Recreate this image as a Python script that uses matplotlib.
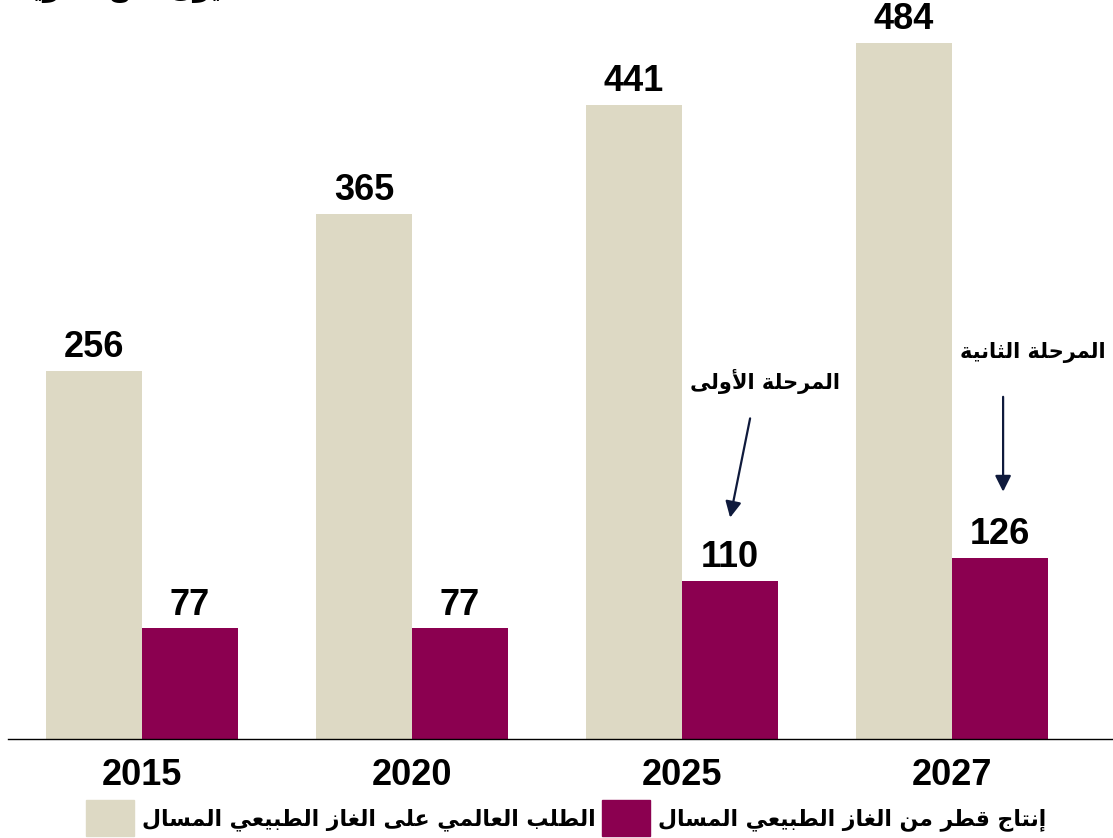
import matplotlib
matplotlib.use("Agg")
import matplotlib.pyplot as plt
from matplotlib.patches import Patch

# Arabic letters -> first presentation form (isolated) and number of forms
FORMS = {
    "ء": (0xFE80, 1), "آ": (0xFE81, 2), "أ": (0xFE83, 2), "ؤ": (0xFE85, 2),
    "إ": (0xFE87, 2), "ئ": (0xFE89, 4), "ا": (0xFE8D, 2), "ب": (0xFE8F, 4),
    "ة": (0xFE93, 2), "ت": (0xFE95, 4), "ث": (0xFE99, 4), "ج": (0xFE9D, 4),
    "ح": (0xFEA1, 4), "خ": (0xFEA5, 4), "د": (0xFEA9, 2), "ذ": (0xFEAB, 2),
    "ر": (0xFEAD, 2), "ز": (0xFEAF, 2), "س": (0xFEB1, 4), "ش": (0xFEB5, 4),
    "ص": (0xFEB9, 4), "ض": (0xFEBD, 4), "ط": (0xFEC1, 4), "ظ": (0xFEC5, 4),
    "ع": (0xFEC9, 4), "غ": (0xFECD, 4), "ف": (0xFED1, 4), "ق": (0xFED5, 4),
    "ك": (0xFED9, 4), "ل": (0xFEDD, 4), "م": (0xFEE1, 4), "ن": (0xFEE5, 4),
    "ه": (0xFEE9, 4), "و": (0xFEED, 2), "ى": (0xFEEF, 2), "ي": (0xFEF1, 4),
}
LAM_ALEF = {"آ": 0xFEF5, "أ": 0xFEF7, "إ": 0xFEF9, "ا": 0xFEFB}


def shape(text):
    """Join Arabic letters into presentation forms and reverse for display."""
    out = []
    i = 0
    n = len(text)
    while i < n:
        ch = text[i]
        if ch not in FORMS:
            out.append(ch)
            i += 1
            continue
        prev = text[i - 1] if i > 0 else ""
        joins_prev = prev in FORMS and FORMS[prev][1] == 4
        if ch == "ل" and i + 1 < n and text[i + 1] in LAM_ALEF:
            out.append(chr(LAM_ALEF[text[i + 1]] + (1 if joins_prev else 0)))
            i += 2
            continue
        base, nf = FORMS[ch]
        nxt = text[i + 1] if i + 1 < n else ""
        joins_next = nf == 4 and nxt in FORMS
        if nf == 1:
            off = 0
        elif joins_prev and joins_next:
            off = 3
        elif joins_prev:
            off = 1
        elif joins_next:
            off = 2
        else:
            off = 0
        out.append(chr(base + off))
        i += 1
    return "".join(out)[::-1]


years = ["2015", "2020", "2025", "2027"]
demand = [256, 365, 441, 484]
qatar = [77, 77, 110, 126]
demand_label = "الطلب العالمي على الغاز الطبيعي المسال"
qatar_label = "إنتاج قطر من الغاز الطبيعي المسال"
units = "مليون طن سنويا"
phase1 = "المرحلة الأولى"
phase2 = "المرحلة الثانية"

beige = "#DDD9C4"
purple = "#8B0050"
navy = "#0F1A3C"
ar_font = ["DejaVu Sans"]
num_font = ["Liberation Sans", "DejaVu Sans"]

fig = plt.figure(figsize=(11.13, 8.38), dpi=100)
ax = fig.add_axes([8 / 1113, 99 / 838, 1105 / 1113, 739 / 838])

w = 0.356
x = list(range(len(years)))
b1 = ax.bar([i - w / 2 for i in x], demand, width=w, color=beige)
b2 = ax.bar([i + w / 2 for i in x], qatar, width=w, color=purple)

for bars, vals in ((b1, demand), (b2, qatar)):
    for bar, v in zip(bars, vals):
        ax.text(bar.get_x() + bar.get_width() / 2, v + 4, str(v),
                ha="center", va="bottom", fontsize=26, fontweight="bold",
                family=num_font)

ax.set_xlim(-0.4963, 3.596)
ax.set_ylim(0, 514)
ax.set_xticks(x)
ax.set_xticklabels(years, fontsize=26, fontweight="bold", family=num_font)
ax.tick_params(axis="x", length=0, pad=14)
ax.set_yticks([])
for s in ("top", "left", "right"):
    ax.spines[s].set_visible(False)
ax.spines["bottom"].set_linewidth(1.0)

# phase annotations with arrows pointing at the production bars
arrow = dict(arrowstyle="-|>", color=navy, lw=1.6, mutation_scale=24,
             shrinkA=0, shrinkB=0)
ax.text(2.307, 249, shape(phase1), ha="center", va="center", fontsize=15,
        fontweight="bold", family=ar_font)
ax.annotate("", xy=(2.178, 154), xytext=(2.252, 223), arrowprops=arrow)
ax.text(3.30, 269, shape(phase2), ha="center", va="center", fontsize=15,
        fontweight="bold", family=ar_font)
ax.annotate("", xy=(3.189, 172), xytext=(3.189, 238), arrowprops=arrow)

# units caption, mostly above the canvas edge
fig.text(0.02, 1.013, shape(units), ha="left", va="center", fontsize=20,
         fontweight="bold", family=ar_font)

handles = [Patch(color=beige), Patch(color=purple)]
ax.legend(handles, [shape(demand_label), shape(qatar_label)], ncol=2,
          loc="center", bbox_to_anchor=(0.505, -0.107), frameon=False,
          prop=dict(family=ar_font, size=15.8, weight="bold"),
          handlelength=2.2, handleheight=2.1, handletextpad=0.35,
          columnspacing=0.3, borderaxespad=0, borderpad=0)

fig.savefig("out.png", dpi=100)
